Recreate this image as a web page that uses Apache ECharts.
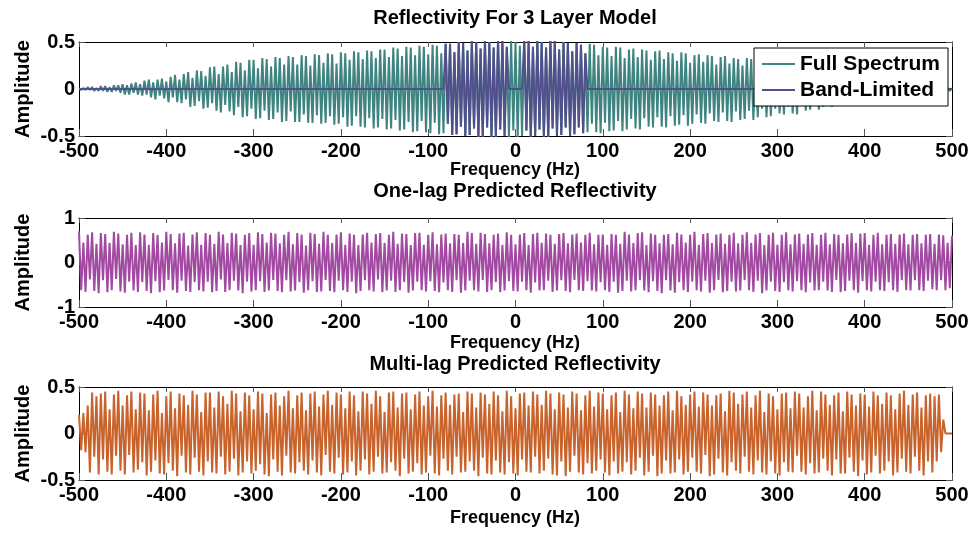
<!DOCTYPE html>
<html>
<head>
<meta charset="utf-8">
<script src="https://cdn.jsdelivr.net/npm/echarts@6/dist/echarts.min.js"></script>
<style>
html,body{margin:0;padding:0;background:#fff;}
#chart{width:973px;height:534px;}
</style>
</head>
<body>
<div id="chart"></div>
<script>
// ---- data ----
const freqStart = -500;
const freqStep = 2.5;
const xTickMin = -500, xTickMax = 500, xTickStep = 100;
const bandLow = 10, bandHigh = 80;

const titles = ["Reflectivity For 3 Layer Model", "One-lag Predicted Reflectivity", "Multi-lag Predicted Reflectivity"];
const xLabel = "Frequency (Hz)";
const yLabel = "Amplitude";
const legendNames = ["Full Spectrum", "Band-Limited"];

const fullSpectrum = [
 0.00,-0.01, 0.01,-0.01, 0.02,-0.01, 0.02,-0.02, 0.01,-0.02,
 0.03,-0.02, 0.03,-0.03, 0.02,-0.03, 0.04,-0.02, 0.04,-0.04,
 0.05,-0.06, 0.04,-0.06, 0.06,-0.04, 0.07,-0.06, 0.05,-0.07,
 0.09,-0.06, 0.10,-0.09, 0.07,-0.11, 0.10,-0.07, 0.11,-0.10,
 0.08,-0.14, 0.13,-0.09, 0.15,-0.14, 0.10,-0.15, 0.16,-0.11,
 0.18,-0.19, 0.12,-0.18, 0.20,-0.13, 0.19,-0.21, 0.14,-0.20,
 0.23,-0.15, 0.24,-0.23, 0.16,-0.25, 0.24,-0.17, 0.26,-0.24,
 0.18,-0.28, 0.29,-0.19, 0.28,-0.30, 0.20,-0.29, 0.31,-0.21,
 0.31,-0.32, 0.22,-0.31, 0.33,-0.23, 0.32,-0.33, 0.24,-0.32,
 0.34,-0.25, 0.33,-0.35, 0.26,-0.34, 0.35,-0.24, 0.34,-0.35,
 0.26,-0.35, 0.36,-0.27, 0.35,-0.36, 0.25,-0.36, 0.37,-0.28,
 0.36,-0.37, 0.28,-0.36, 0.38,-0.29, 0.37,-0.38, 0.27,-0.37,
 0.39,-0.30, 0.38,-0.40, 0.31,-0.39, 0.40,-0.29, 0.39,-0.40,
 0.32,-0.41, 0.41,-0.31, 0.40,-0.42, 0.33,-0.41, 0.42,-0.32,
 0.42,-0.43, 0.34,-0.42, 0.44,-0.33, 0.43,-0.44, 0.35,-0.43,
 0.45,-0.35, 0.44,-0.46, 0.36,-0.45, 0.46,-0.34, 0.45,-0.46,
 0.37,-0.47, 0.47,-0.36, 0.46,-0.48, 0.38,-0.47, 0.48,-0.37,
 0.48,-0.49, 0.39,-0.48, 0.50,-0.40, 0.49,-0.50, 0.41,-0.49,
 0.51,-0.42, 0.50,-0.52, 0.43,-0.51, 0.52,-0.41, 0.50,-0.52,
 0.44,-0.51, 0.53,-0.43, 0.51,-0.50, 0.45,-0.52, 0.51,-0.44,
 0.50,-0.51, 0.46,-0.50, 0.52,-0.44, 0.51,-0.53, 0.45,-0.50,
 0.52,-0.43, 0.50,-0.51, 0.44,-0.52, 0.53,-0.42, 0.51,-0.50,
 0.42,-0.49, 0.50,-0.41, 0.49,-0.50, 0.40,-0.48, 0.49,-0.41,
 0.47,-0.47, 0.38,-0.46, 0.48,-0.37, 0.47,-0.46, 0.36,-0.47,
 0.45,-0.36, 0.44,-0.45, 0.35,-0.44, 0.45,-0.34, 0.44,-0.45,
 0.33,-0.43, 0.42,-0.32, 0.43,-0.42, 0.34,-0.43, 0.42,-0.31,
 0.41,-0.40, 0.31,-0.41, 0.40,-0.30, 0.41,-0.40, 0.32,-0.41,
 0.39,-0.29, 0.38,-0.39, 0.30,-0.38, 0.39,-0.28, 0.38,-0.39,
 0.28,-0.37, 0.36,-0.27, 0.37,-0.36, 0.29,-0.37, 0.36,-0.26,
 0.35,-0.34, 0.26,-0.35, 0.34,-0.25, 0.35,-0.34, 0.27,-0.35,
 0.33,-0.24, 0.32,-0.33, 0.25,-0.32, 0.33,-0.23, 0.32,-0.33,
 0.22,-0.30, 0.30,-0.21, 0.29,-0.30, 0.23,-0.29, 0.30,-0.21,
 0.27,-0.26, 0.20,-0.27, 0.26,-0.19, 0.27,-0.26, 0.20,-0.27,
 0.23,-0.17, 0.22,-0.23, 0.16,-0.22, 0.23,-0.16, 0.22,-0.22,
 0.14,-0.19, 0.19,-0.13, 0.18,-0.19, 0.14,-0.18, 0.19,-0.13,
 0.15,-0.14, 0.11,-0.15, 0.14,-0.10, 0.15,-0.14, 0.11,-0.14,
 0.12,-0.08, 0.11,-0.12, 0.09,-0.11, 0.12,-0.08, 0.11,-0.11,
 0.06,-0.08, 0.08,-0.06, 0.08,-0.08, 0.05,-0.08, 0.07,-0.05,
 0.05,-0.05, 0.04,-0.05, 0.05,-0.03, 0.05,-0.04, 0.03,-0.04,
 0.03,-0.03, 0.02,-0.03, 0.02,-0.02, 0.02,-0.02, 0.01,-0.02,
 0.01
];

const oneLag = [
 0.70,-0.62, 0.45,-0.66, 0.63,-0.38, 0.68,-0.64, 0.42,-0.69,
 0.66,-0.40, 0.64,-0.67, 0.44,-0.62, 0.69,-0.37, 0.65,-0.65,
 0.41,-0.68, 0.62,-0.43, 0.67,-0.63, 0.39,-0.66, 0.68,-0.44,
 0.63,-0.64, 0.40,-0.69, 0.66,-0.42, 0.62,-0.67, 0.45,-0.63,
 0.69,-0.39, 0.64,-0.62, 0.43,-0.68, 0.65,-0.41, 0.67,-0.64,
 0.38,-0.66, 0.63,-0.44, 0.68,-0.62, 0.40,-0.65, 0.66,-0.43,
 0.62,-0.67, 0.42,-0.64, 0.69,-0.38, 0.63,-0.66, 0.44,-0.62,
 0.67,-0.41, 0.65,-0.63, 0.39,-0.69, 0.62,-0.43, 0.66,-0.65,
 0.40,-0.62, 0.68,-0.42, 0.64,-0.66, 0.45,-0.63, 0.67,-0.39,
 0.65,-0.64, 0.43,-0.67, 0.62,-0.40, 0.69,-0.65, 0.41,-0.63,
 0.66,-0.44, 0.63,-0.68, 0.38,-0.62, 0.67,-0.42, 0.64,-0.66,
 0.42,-0.65, 0.69,-0.39, 0.62,-0.64, 0.44,-0.67, 0.63,-0.41,
 0.68,-0.62, 0.40,-0.66, 0.65,-0.43, 0.62,-0.69, 0.39,-0.64,
 0.63,-0.40, 0.67,-0.62, 0.45,-0.65, 0.64,-0.38, 0.66,-0.67,
 0.44,-0.63, 0.62,-0.41, 0.69,-0.66, 0.42,-0.62, 0.65,-0.44,
 0.64,-0.68, 0.39,-0.63, 0.66,-0.43, 0.67,-0.62, 0.40,-0.65,
 0.62,-0.42, 0.68,-0.64, 0.41,-0.67, 0.63,-0.45, 0.65,-0.62,
 0.43,-0.66, 0.64,-0.40, 0.62,-0.68, 0.44,-0.63, 0.69,-0.41,
 0.66,-0.62, 0.42,-0.65, 0.67,-0.39, 0.64,-0.66, 0.43,-0.62,
 0.62,-0.44, 0.65,-0.67, 0.40,-0.63, 0.68,-0.42, 0.62,-0.64,
 0.41,-0.65, 0.63,-0.43, 0.66,-0.62, 0.39,-0.68, 0.64,-0.45,
 0.67,-0.63, 0.44,-0.62, 0.65,-0.41, 0.62,-0.66, 0.42,-0.63,
 0.64,-0.40, 0.66,-0.64, 0.43,-0.67, 0.63,-0.39, 0.65,-0.62,
 0.45,-0.64, 0.62,-0.42, 0.67,-0.63, 0.41,-0.65, 0.62,-0.44,
 0.63,-0.62, 0.40,-0.66, 0.64,-0.43, 0.62,-0.68, 0.42,-0.64,
 0.69,-0.41, 0.63,-0.65, 0.44,-0.62, 0.66,-0.40, 0.68,-0.63,
 0.39,-0.67, 0.65,-0.42, 0.62,-0.64, 0.43,-0.69, 0.62,-0.40,
 0.64,-0.63, 0.41,-0.68, 0.67,-0.44, 0.63,-0.62, 0.45,-0.66,
 0.62,-0.43, 0.69,-0.62, 0.40,-0.65, 0.64,-0.41, 0.66,-0.68,
 0.44,-0.62, 0.63,-0.39, 0.65,-0.67, 0.42,-0.64, 0.62,-0.43,
 0.67,-0.65, 0.43,-0.63, 0.62,-0.40, 0.68,-0.62, 0.44,-0.66,
 0.63,-0.41, 0.66,-0.69, 0.39,-0.63, 0.62,-0.43, 0.67,-0.64,
 0.40,-0.66, 0.62,-0.44, 0.68,-0.62, 0.41,-0.65, 0.63,-0.42,
 0.65,-0.62, 0.42,-0.67, 0.63,-0.45, 0.66,-0.63, 0.40,-0.62,
 0.62,-0.43, 0.67,-0.63, 0.41,-0.66, 0.64,-0.39, 0.62,-0.67,
 0.43,-0.64, 0.63,-0.41, 0.66,-0.62, 0.44,-0.68, 0.65,-0.42,
 0.66,-0.62, 0.40,-0.65, 0.62,-0.43, 0.67,-0.62, 0.41,-0.64,
 0.62,-0.44, 0.64,-0.62, 0.42,-0.66, 0.63,-0.40, 0.65,-0.62,
 0.41,-0.63, 0.62,-0.40, 0.64,-0.62, 0.43,-0.64, 0.62,-0.41,
 0.64,-0.60, 0.42,-0.62, 0.63,-0.40, 0.61,-0.62, 0.44,-0.58,
 0.60
];

const multiLag = [
 0.20,-0.18, 0.22,-0.20, 0.30,-0.42, 0.44,-0.25, 0.40,-0.44,
 0.43,-0.28, 0.45,-0.41, 0.26,-0.44, 0.42,-0.24, 0.46,-0.40,
 0.30,-0.44, 0.41,-0.23, 0.45,-0.42, 0.26,-0.39, 0.44,-0.31,
 0.43,-0.45, 0.25,-0.41, 0.42,-0.29, 0.46,-0.43, 0.22,-0.44,
 0.40,-0.32, 0.45,-0.40, 0.27,-0.46, 0.43,-0.24, 0.41,-0.42,
 0.31,-0.44, 0.46,-0.26, 0.42,-0.41, 0.23,-0.45, 0.44,-0.30,
 0.44,-0.42, 0.28,-0.43, 0.45,-0.25, 0.40,-0.44, 0.32,-0.41,
 0.46,-0.27, 0.43,-0.45, 0.24,-0.42, 0.44,-0.30, 0.41,-0.43,
 0.26,-0.40, 0.45,-0.33, 0.43,-0.44, 0.22,-0.46, 0.42,-0.28,
 0.44,-0.41, 0.30,-0.45, 0.40,-0.24, 0.46,-0.42, 0.27,-0.43,
 0.41,-0.31, 0.44,-0.40, 0.25,-0.44, 0.43,-0.29, 0.45,-0.42,
 0.29,-0.45, 0.42,-0.23, 0.46,-0.41, 0.31,-0.43, 0.44,-0.26,
 0.42,-0.44, 0.27,-0.42, 0.45,-0.30, 0.41,-0.45, 0.24,-0.40,
 0.45,-0.28, 0.43,-0.44, 0.32,-0.41, 0.46,-0.25, 0.40,-0.43,
 0.23,-0.42, 0.44,-0.31, 0.45,-0.40, 0.28,-0.46, 0.43,-0.27,
 0.44,-0.43, 0.26,-0.41, 0.42,-0.32, 0.45,-0.44, 0.30,-0.42,
 0.40,-0.24, 0.46,-0.43, 0.29,-0.45, 0.41,-0.27, 0.44,-0.40,
 0.31,-0.44, 0.42,-0.25, 0.43,-0.42, 0.23,-0.41, 0.45,-0.30,
 0.43,-0.40, 0.28,-0.46, 0.44,-0.26, 0.42,-0.43, 0.32,-0.44,
 0.45,-0.29, 0.41,-0.42, 0.24,-0.44, 0.46,-0.31, 0.40,-0.43,
 0.27,-0.45, 0.43,-0.28, 0.44,-0.41, 0.30,-0.42, 0.45,-0.25,
 0.42,-0.43, 0.31,-0.40, 0.46,-0.27, 0.43,-0.44, 0.26,-0.45,
 0.44,-0.30, 0.42,-0.46, 0.28,-0.41, 0.45,-0.24, 0.43,-0.42,
 0.25,-0.44, 0.41,-0.32, 0.46,-0.43, 0.29,-0.40, 0.44,-0.28,
 0.43,-0.42, 0.26,-0.45, 0.41,-0.30, 0.44,-0.43, 0.23,-0.41,
 0.46,-0.31, 0.42,-0.44, 0.27,-0.40, 0.45,-0.26, 0.43,-0.45,
 0.28,-0.41, 0.44,-0.24, 0.42,-0.46, 0.30,-0.43, 0.41,-0.29,
 0.45,-0.43, 0.25,-0.42, 0.46,-0.28, 0.40,-0.44, 0.31,-0.41,
 0.42,-0.26, 0.45,-0.41, 0.29,-0.43, 0.44,-0.23, 0.42,-0.46,
 0.30,-0.44, 0.41,-0.27, 0.43,-0.42, 0.24,-0.45, 0.46,-0.31,
 0.44,-0.40, 0.32,-0.43, 0.42,-0.25, 0.45,-0.41, 0.28,-0.44,
 0.41,-0.29, 0.46,-0.42, 0.23,-0.44, 0.43,-0.30, 0.40,-0.43,
 0.26,-0.45, 0.43,-0.31, 0.44,-0.41, 0.27,-0.42, 0.45,-0.24,
 0.43,-0.41, 0.28,-0.44, 0.40,-0.32, 0.46,-0.43, 0.25,-0.42,
 0.45,-0.27, 0.42,-0.40, 0.31,-0.45, 0.41,-0.28, 0.44,-0.43,
 0.24,-0.43, 0.45,-0.26, 0.42,-0.41, 0.30,-0.46, 0.43,-0.29,
 0.42,-0.44, 0.29,-0.42, 0.45,-0.24, 0.41,-0.43, 0.32,-0.40,
 0.44,-0.30, 0.41,-0.45, 0.26,-0.42, 0.43,-0.27, 0.46,-0.41,
 0.31,-0.43, 0.42,-0.25, 0.44,-0.40, 0.28,-0.45, 0.41,-0.30,
 0.43,-0.42, 0.40,-0.30, 0.42,-0.20, 0.15, 0.00, 0.00, 0.00,
 0.00
];

// ---- build ----
const toXY = arr => arr.map((v, i) => [freqStart + i * freqStep, v]);
const fullXY = toXY(fullSpectrum);
const bandXY = fullSpectrum.map((v, i) => {
  const f = freqStart + i * freqStep;
  const a = Math.abs(f);
  return [f, (a >= bandLow && a <= bandHigh) ? v : 0];
});

const FONT = 'Liberation Sans, Arial, Helvetica, sans-serif';
const colors = { full: '#3f8480', band: '#52508c', one: '#a24aa2', multi: '#c9632c' };

const grids = [
  { left: 79, top: 42, width: 873, height: 94 },
  { left: 79, top: 218, width: 873, height: 89 },
  { left: 79, top: 387, width: 873, height: 93 }
];
const yRanges = [[-0.5, 0.5, 0.5], [-1, 1, 1], [-0.5, 0.5, 0.5]];

const chart = echarts.init(document.getElementById('chart'), null, { renderer: 'canvas' });

const TICK_FS = 20;
const xAxis = [], yAxis = [];
grids.forEach((g, k) => {
  xAxis.push({
    type: 'value', gridIndex: k, position: 'bottom',
    min: xTickMin, max: xTickMax, interval: xTickStep,
    axisLine: { show: true, onZero: false, lineStyle: { color: '#000', width: 1 } },
    axisTick: { show: true, inside: true, length: 7, lineStyle: { color: '#555' } },
    axisLabel: { show: true, margin: 5, color: '#000', fontFamily: FONT, fontWeight: 'bold', fontSize: TICK_FS },
    splitLine: { show: false }
  });
  xAxis.push({
    type: 'value', gridIndex: k, position: 'top',
    min: xTickMin, max: xTickMax, interval: xTickStep,
    axisLine: { show: true, onZero: false, lineStyle: { color: '#000', width: 1 } },
    axisTick: { show: true, inside: true, length: 5, lineStyle: { color: '#555' } },
    axisLabel: { show: false },
    splitLine: { show: false }
  });
  const r = yRanges[k];
  yAxis.push({
    type: 'value', gridIndex: k, position: 'left',
    min: r[0], max: r[1], interval: r[2],
    axisLine: { show: true, onZero: false, lineStyle: { color: '#000', width: 1 } },
    axisTick: { show: true, inside: true, length: 6, lineStyle: { color: '#555' } },
    axisLabel: { show: true, margin: 4, color: '#000', fontFamily: FONT, fontWeight: 'bold', fontSize: TICK_FS },
    splitLine: { show: false }
  });
  yAxis.push({
    type: 'value', gridIndex: k, position: 'right',
    min: r[0], max: r[1], interval: r[2],
    axisLine: { show: true, onZero: false, lineStyle: { color: '#000', width: 1 } },
    axisTick: { show: true, inside: true, length: 6, lineStyle: { color: '#555' } },
    axisLabel: { show: false },
    splitLine: { show: false }
  });
});

const lineSeries = (name, data, k, color, z) => ({
  name, type: 'line', data, xAxisIndex: k * 2, yAxisIndex: k * 2,
  showSymbol: false, symbol: 'none', sampling: null, clip: true, z,
  lineStyle: { color, width: 2 }, itemStyle: { color },
  emphasis: { disabled: true }
});

const titleY = [18, 191, 364];
const xLabelY = [170, 343, 518];
const ampY = [89, 262.5, 433.5];
const graphic = [];
titles.forEach((t, k) => {
  graphic.push({ type: 'text', x: 515, y: titleY[k], style: { text: t, fill: '#000', font: 'bold 20px ' + FONT, textAlign: 'center', textVerticalAlign: 'middle' } });
  graphic.push({ type: 'text', x: 515, y: xLabelY[k], style: { text: xLabel, fill: '#000', font: 'bold 18px ' + FONT, textAlign: 'center', textVerticalAlign: 'middle' } });
  graphic.push({ type: 'text', x: 23, y: ampY[k], rotation: Math.PI / 2, style: { text: yLabel, fill: '#000', font: 'bold 20px ' + FONT, textAlign: 'center', textVerticalAlign: 'middle' } });
});

chart.setOption({
  animation: false,
  backgroundColor: '#fff',
  grid: grids.map(g => Object.assign({ show: false, containLabel: false }, g)),
  xAxis, yAxis,
  legend: {
    data: legendNames,
    orient: 'vertical',
    left: 754, top: 48,
    backgroundColor: '#fff',
    borderColor: '#000', borderWidth: 1,
    padding: [5, 8, 5, 8],
    itemGap: 4,
    itemWidth: 33, itemHeight: 2,
    icon: 'rect',
    textStyle: { color: '#000', fontFamily: FONT, fontWeight: 'bold', fontSize: 21, lineHeight: 22 },
    selectedMode: false
  },
  series: [
    lineSeries(legendNames[0], fullXY, 0, colors.full, 2),
    lineSeries(legendNames[1], bandXY, 0, colors.band, 3),
    lineSeries('One-lag', toXY(oneLag), 1, colors.one, 2),
    lineSeries('Multi-lag', toXY(multiLag), 2, colors.multi, 2)
  ],
  graphic
});
</script>
</body>
</html>
